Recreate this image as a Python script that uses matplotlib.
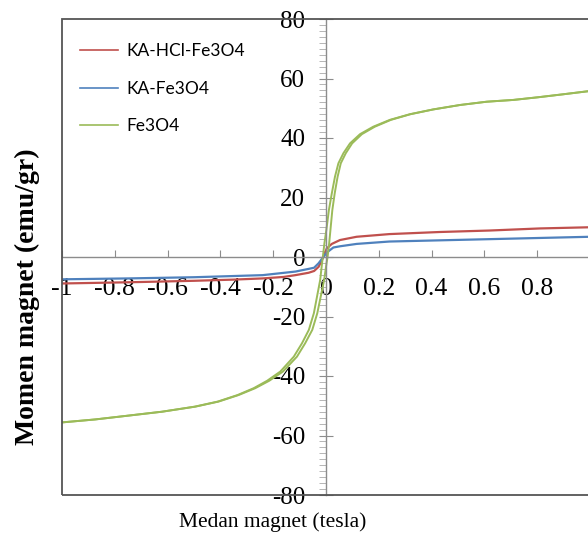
import matplotlib.pyplot as plt
from matplotlib.patches import Rectangle
from matplotlib.ticker import MultipleLocator

plt.rcParams['axes.unicode_minus'] = False

# Fe3O4 loop, branch coming down from +1 T
fe_x_down = [1.0, 0.899, 0.804, 0.71, 0.609, 0.508, 0.406, 0.318, 0.242, 0.179,
             0.129, 0.091, 0.066, 0.047, 0.034, 0.022, 0.011, 0.003, -0.006, -0.012,
             -0.015, -0.022, -0.034, -0.046, -0.065, -0.091, -0.122, -0.173, -0.223,
             -0.274, -0.335, -0.41, -0.497, -0.621, -0.747, -0.874, -1.0]
fe_m_down = [55.8, 54.7, 53.7, 52.8, 52.2, 51.1, 49.6, 48.0, 46.1, 43.8,
             41.3, 38.2, 34.9, 31.5, 27.0, 21.4, 15.8, 10.2, 4.6, 0.0,
             -2.1, -7.7, -13.3, -18.9, -24.5, -29.0, -33.5, -38.5, -41.6,
             -44.1, -46.4, -48.6, -50.3, -52.0, -53.3, -54.6, -55.6]
# branch going up from -1 T
fe_x_up = [-1.0, -0.874, -0.747, -0.621, -0.495, -0.407, -0.331, -0.268, -0.215,
           -0.163, -0.11, -0.079, -0.052, -0.033, -0.02, -0.007, 0.002, 0.006,
           0.012, 0.018, 0.024, 0.033, 0.044, 0.056, 0.075, 0.099, 0.136, 0.185,
           0.246, 0.32, 0.406, 0.508, 0.609, 0.71, 0.804, 0.899, 1.0]
fe_m_up = [-55.6, -54.6, -53.3, -52.0, -50.3, -48.6, -46.4, -44.1, -41.6,
           -38.5, -33.5, -29.0, -24.5, -18.9, -13.3, -7.7, -2.1, 0.0,
           4.6, 10.2, 15.8, 21.4, 27.0, 31.5, 34.9, 38.2, 41.3, 43.8,
           46.1, 48.0, 49.6, 51.1, 52.2, 52.8, 53.7, 54.7, 55.8]

kahcl_x = [-1.0, -0.75, -0.5, -0.35, -0.24, -0.16, -0.116, -0.066, -0.045, -0.028,
           -0.01, 0.003, 0.022, 0.053, 0.116, 0.24, 0.43, 0.62, 0.81, 1.0]
kahcl_m = [-8.9, -8.5, -8.0, -7.6, -7.2, -6.7, -6.1, -5.3, -4.7, -3.3,
           0.0, 2.9, 4.4, 5.7, 6.8, 7.7, 8.4, 8.9, 9.6, 10.0]

ka_x = [-1.0, -0.75, -0.5, -0.24, -0.116, -0.066, -0.045, -0.028, -0.01, 0.003,
        0.028, 0.053, 0.116, 0.24, 0.43, 0.62, 0.81, 1.0]
ka_m = [-7.5, -7.2, -6.8, -6.1, -4.9, -4.0, -3.6, -2.1, 0.0, 1.5,
        3.2, 3.6, 4.4, 5.2, 5.6, 6.0, 6.4, 6.8]

xticks = [-1, -0.8, -0.6, -0.4, -0.2, 0, 0.2, 0.4, 0.6, 0.8, 1.0]
xlabels = ['-1', '-0.8', '-0.6', '-0.4', '-0.2', '0', '0.2', '0.4', '0.6', '0.8', '']
yticks = [-80, -60, -40, -20, 0, 20, 40, 60, 80]

red = '#C0504D'
blue = '#4F81BD'
green = '#9BBB59'

fig = plt.figure(figsize=(5.88, 5.36), dpi=100)
ax = fig.add_axes([62 / 588, 1 - 495 / 536, 528 / 588, 476 / 536])

ax.plot(kahcl_x, kahcl_m, color=red, lw=1.6, label='KA-HCl-Fe3O4')
ax.plot(ka_x, ka_m, color=blue, lw=1.6, label='KA-Fe3O4')
ax.plot(fe_x_up, fe_m_up, color=green, lw=1.4, label='Fe3O4')
ax.plot(fe_x_down, fe_m_down, color=green, lw=1.4)

ax.set_xlim(-1, 1)
ax.set_ylim(-80, 80)

# axes crossing at the origin
for s in ['left', 'bottom']:
    ax.spines[s].set_position('zero')
    ax.spines[s].set_color('#8c8c8c')
    ax.spines[s].set_linewidth(1.0)
for s in ['top', 'right']:
    ax.spines[s].set_visible(False)
ax.add_patch(Rectangle((0, 0), 1, 1, transform=ax.transAxes, fill=False,
                       edgecolor='#555555', lw=1.3, clip_on=False, zorder=5))

ax.set_xticks(xticks)
ax.set_xticklabels(xlabels)
ax.set_yticks(yticks)
ax.set_yticklabels([str(v) for v in yticks])
ax.yaxis.set_minor_locator(MultipleLocator(2))

ax.tick_params(axis='x', direction='in', length=5, color='#8c8c8c', pad=15,
               labelsize=18.5)
ax.tick_params(axis='y', which='major', direction='inout', length=10,
               color='#8c8c8c', pad=10, labelsize=18)
ax.tick_params(axis='y', which='minor', direction='out', length=5,
               color='#aaaaaa')
for lab in ax.get_xticklabels() + ax.get_yticklabels():
    lab.set_family('Liberation Serif')

leg = ax.legend(loc='upper left', bbox_to_anchor=(80 / 588, 1 - 43 / 536),
                bbox_transform=fig.transFigure, frameon=False,
                prop={'family': 'Lato', 'size': 12.5}, handlelength=2.2,
                handletextpad=0.45, labelspacing=1.25, borderaxespad=0,
                borderpad=0)
for line in leg.get_lines():
    line.set_linewidth(1.2)

fig.text(273 / 588, 1 - 522 / 536, 'Medan magnet (tesla)', ha='center',
         va='center', family='Liberation Serif', fontsize=15.5)
fig.text(27 / 588, 1 - 297 / 536, 'Momen magnet (emu/gr)', ha='center',
         va='center', rotation=90, family='Liberation Serif', fontsize=20,
         fontweight='bold')

fig.savefig('out.png', dpi=100)
